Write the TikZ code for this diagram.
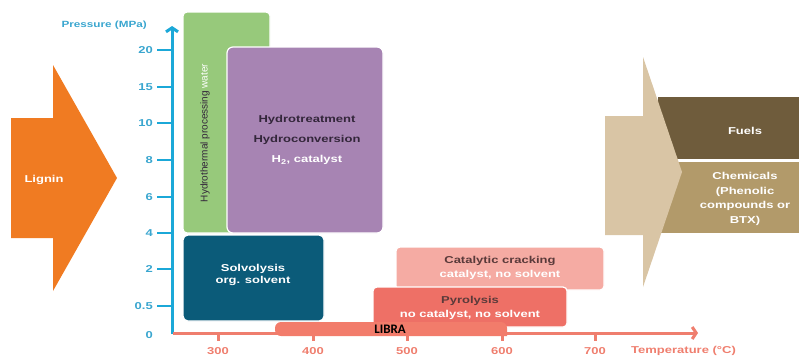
\documentclass[tikz,border=0pt]{standalone}
\usepackage{fontspec}
\setmainfont{Liberation Sans}
\newfontfamily\wf[FakeStretch=1.3]{Liberation Sans}
\newfontfamily\cf{Carlito}
\usetikzlibrary{arrows.meta}
\definecolor{lignin}{HTML}{F07B22}
\definecolor{paxis}{HTML}{1BA8D8}
\definecolor{plabel}{HTML}{3AA6CF}
\definecolor{taxis}{HTML}{EF7E6E}
\definecolor{green1}{HTML}{97C97B}
\definecolor{purple1}{HTML}{A784B3}
\definecolor{teal1}{HTML}{0B5B79}
\definecolor{pink1}{HTML}{F5ABA3}
\definecolor{pyro}{HTML}{EE7066}
\definecolor{libra}{HTML}{F27C6B}
\definecolor{beige}{HTML}{D9C5A5}
\definecolor{fuels}{HTML}{6F5C3C}
\definecolor{chem}{HTML}{B29A6A}
\definecolor{darkt}{HTML}{33263A}
\definecolor{darkr}{HTML}{5A3A3A}
\begin{document}
\begin{tikzpicture}[x=1pt,y=-1pt,
  lbl/.style={inner sep=0pt,font=\wf\bfseries\fontsize{10}{12}\selectfont},
  plab/.style={lbl,text=plabel,anchor=east},
  tlab/.style={lbl,text=taxis},
  ptick/.style={draw=paxis,line width=2.6pt},
  ttick/.style={draw=taxis,line width=3pt},
  region/.style={draw=white,line width=1.2pt}]
\useasboundingbox (0,0) rectangle (799,356);

% Lignin arrow
\fill[lignin] (11,118) -- (53,118) -- (53,65) -- (117,178) -- (53,291) -- (53,238) -- (11,238) -- cycle;
\node[lbl,text=white] (lig) at (44,180) {Lignin};

% products
\fill[fuels] (658,97) rectangle (799,159);
\fill[chem] (658,162) rectangle (799,233);
\fill[beige] (605,116) -- (643,116) -- (643,57) -- (682,172) -- (643,287) -- (643,235) -- (605,235) -- cycle;
\node[lbl,text=white] (fuel) at (745,131) {Fuels};
\node[lbl,text=white,align=center,execute at begin node=\setlength{\baselineskip}{14.5pt}] (chm) at (745,199) {Chemicals\\(Phenolic\\compounds or\\BTX)};

% axes
\coordinate (o) at (172,334);
\coordinate (ptop) at (172,26);
\coordinate (tstart) at (173,333);
\coordinate (tend) at (698,333);
\draw[paxis,line width=3pt,-{Straight Barb[length=4pt,width=12pt]}] (o) -- (ptop);
\draw[taxis,line width=3pt,-{Straight Barb[length=4pt,width=12pt]}] (tstart) -- (tend);
\node[lbl,text=plabel,anchor=east,font=\wf\bfseries\fontsize{9}{11}\selectfont] (ptitle) at (147,25) {Pressure (MPa)};

\foreach \v/\y in {20/50,15/87,10/123,8/160,6/197,4/233,2/269,0.5/306}{
  \draw[ptick] (157,\y) -- (172,\y);
  \node[plab] at (153,\y) {\v};
}
\node[plab] (p0) at (153,335) {0};

\foreach \v/\x in {300/218,400/313,500/407,600/502,700/595}{
  \draw[ttick] (\x,333) -- (\x,341);
  \node[tlab] at (\x,351) {\v};
}
\node[tlab,anchor=west] (ttitle) at (631,351) {Temperature (°C)};

% process regions
\filldraw[region,fill=green1,rounded corners=4pt] (183,12) rectangle (270,233);
\node[rotate=90,inner sep=0pt,font=\fontsize{10}{12}\selectfont] (hyd) at (205,133) {\textcolor{darkt}{Hydrothermal processing} \textcolor{white}{water}};
\filldraw[region,fill=purple1,rounded corners=6pt] (227,47) rectangle (383,233);
\node[lbl,text=darkt] (ht) at (307,120) {Hydrotreatment};
\node[lbl,text=darkt] (hc) at (307,140) {Hydroconversion};
\node[lbl,text=white] (hcat) at (307,160) {H\textsubscript{2}, catalyst};

\filldraw[region,fill=teal1,rounded corners=5pt] (183,235) rectangle (324,321);
\node[lbl,text=white] (sol) at (253,269) {Solvolysis};
\node[lbl,text=white] (sol2) at (253,281) {org. solvent};

\filldraw[region,fill=pink1,rounded corners=4pt] (396,247) rectangle (604,290);
\node[lbl,text=darkr] (cc) at (500,261) {Catalytic cracking};
\node[lbl,text=white] (cc2) at (500,275) {catalyst, no solvent};

\filldraw[region,fill=pyro,rounded corners=4pt] (373,287) rectangle (567,327);
\node[lbl,text=darkr] (py) at (470,301) {Pyrolysis};
\node[lbl,text=white] (py2) at (470,315) {no catalyst, no solvent};

\fill[libra,rounded corners=6pt] (275,322) -- (507,322) [sharp corners] -- (507,336) [rounded corners=6pt] -- (275,336) -- cycle;
\node[inner sep=0pt,font=\cf\bfseries\fontsize{13}{15}\selectfont] (lib) at (390,329) {LIBRA};
\end{tikzpicture}
\end{document}
